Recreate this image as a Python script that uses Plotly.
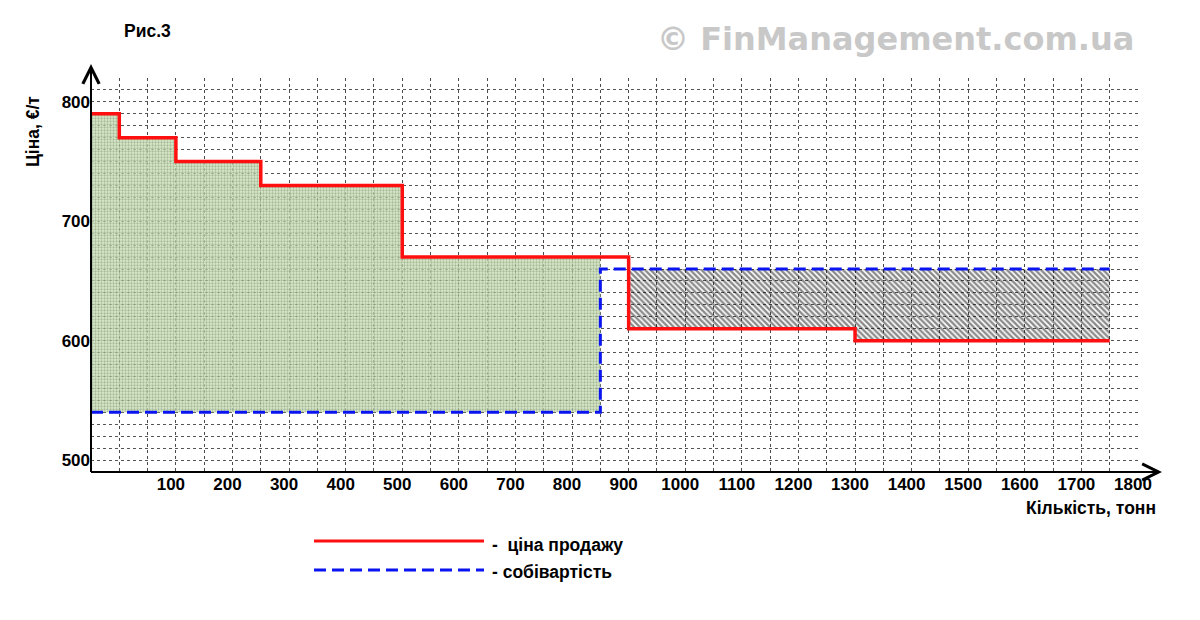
import plotly.graph_objects as go

# ---- data ----
price_x = [-50, 0, 100, 250, 500, 900, 1300, 1750]   # step starts, tonnes
price_y = [790, 770, 750, 730, 670, 610, 600, 600]   # selling price, EUR/t
cost_x = [-50, 850, 1750]
cost_y = [540, 660, 660]                              # cost price, EUR/t

x_tick_vals = [100, 200, 300, 400, 500, 600, 700, 800, 900, 1000,
               1100, 1200, 1300, 1400, 1500, 1600, 1700, 1800]
y_tick_vals = [500, 600, 700, 800]

series_names = ["ціна продажу", "собівартість"]

# ---- geometry helpers (screen pixels; page body has an 8px margin) ----
OFF = 8
W, H = 1200 - OFF, 620 - OFF
PL, PR, PT, PB = 91, 1138, 78, 472          # plot area on screen
L, T = PL - OFF, PT - OFF
R, B = W - (PR - OFF), H - (PB - OFF)
PW, PH = PR - PL, PB - PT


def px(x):
    return (x - PL) / PW


def py(y):
    return (PB - y) / PH


def step_value(xs, ys, x):
    v = ys[0]
    for xi, yi in zip(xs, ys):
        if xi <= x:
            v = yi
    return v


def step_path(xs, ys, x0, x1):
    pts = []
    for i in range(len(xs) - 1):
        a, b = max(xs[i], x0), min(xs[i + 1], x1)
        if a < b:
            pts.append((a, ys[i]))
            pts.append((b, ys[i]))
    return pts


fig = go.Figure()

# green region: price above cost, before cost jump
gx0, gx1 = cost_x[0], cost_x[1]
g = step_path(price_x, price_y, gx0, gx1)
g += [(gx1, cost_y[0]), (gx0, cost_y[0])]
fig.add_trace(go.Scatter(
    x=[p[0] for p in g] + [g[0][0]], y=[p[1] for p in g] + [g[0][1]],
    mode="none", fill="toself", hoverinfo="skip", showlegend=False,
    fillpattern=dict(shape=".", size=3, solidity=0.45,
                     fgcolor="rgba(95,115,85,0.85)",
                     bgcolor="rgba(205,228,185,0.75)"),
))

# gray hatched region: price below cost
hx0, hx1 = price_x[5], price_x[-1]
top = step_value(cost_x, cost_y, hx0)
h = step_path(price_x, price_y, hx0, hx1)
h += [(hx1, top), (hx0, top)]
fig.add_trace(go.Scatter(
    x=[p[0] for p in h] + [h[0][0]], y=[p[1] for p in h] + [h[0][1]],
    mode="none", fill="toself", hoverinfo="skip", showlegend=False,
    fillpattern=dict(shape="\\", size=4, solidity=0.6,
                     fgcolor="rgba(10,10,10,0.95)",
                     bgcolor="rgba(255,255,255,0)"),
))

fig.add_trace(go.Scatter(
    x=cost_x, y=cost_y, mode="lines", line_shape="hv", name=series_names[1],
    line=dict(color="#0a14f0", width=3, dash="12px,6px"), showlegend=False,
))
fig.add_trace(go.Scatter(
    x=price_x, y=price_y, mode="lines", line_shape="hv", name=series_names[0],
    line=dict(color="#ff1010", width=3.5), showlegend=False,
))

# axes: grid every 50 t and every 10 EUR
xgrid = list(range(0, 1801, 50))
ygrid = list(range(490, 821, 10))
tick_font = dict(family="Liberation Sans, Arial, sans-serif", size=17, color="black", weight="bold")

fig.update_xaxes(
    range=[-50, 1800], tickmode="array", tickvals=xgrid,
    ticktext=[str(v) if v in x_tick_vals else "" for v in xgrid],
    showgrid=True, gridcolor="#4a4a4a", griddash="dot", gridwidth=1,
    zeroline=False, showline=False, ticks="", tickfont=tick_font,
    ticklabelshift=-5,
)
fig.update_yaxes(
    range=[490, 820], tickmode="array", tickvals=ygrid,
    ticktext=[str(v) if v in y_tick_vals else "" for v in ygrid],
    showgrid=True, gridcolor="#555555", griddash="dot", gridwidth=1,
    zeroline=False, showline=False, ticks="", tickfont=tick_font,
)

txt = dict(family="Liberation Sans, Arial, sans-serif", size=17.5, color="black", weight="bold")
ann = []
# axis arrows
ann.append(dict(xref="paper", yref="paper", x=px(91), y=py(64), ax=0, ay=PB - 64,
                axref="pixel", ayref="pixel", text="", showarrow=True,
                arrowhead=5, arrowsize=2.0, arrowwidth=1.6, arrowcolor="black"))
ann.append(dict(xref="paper", yref="paper", x=px(1162), y=py(PB), ax=-(1162 - PL), ay=0,
                axref="pixel", ayref="pixel", text="", showarrow=True,
                arrowhead=5, arrowsize=2.0, arrowwidth=1.6, arrowcolor="black"))
# titles
ann.append(dict(xref="paper", yref="paper", x=px(147), y=py(31), text="Рис.3",
                showarrow=False, font=txt, xanchor="center", yanchor="middle"))
ann.append(dict(xref="paper", yref="paper", x=px(33), y=py(132), text="Ціна, €/т",
                showarrow=False, font=txt, textangle=-90, xanchor="center", yanchor="middle"))
ann.append(dict(xref="paper", yref="paper", x=px(1158), y=py(508), text="Кількість, тонн",
                showarrow=False, font=txt, xanchor="right", yanchor="middle"))
ann.append(dict(xref="paper", yref="paper", x=px(1136), y=py(39), text="© FinManagement.com.ua",
                showarrow=False, xanchor="right", yanchor="middle",
                font=dict(family="DejaVu Sans, Verdana, sans-serif", size=32,
                          color="#c8c8c8", weight="bold")))
# legend texts
ann.append(dict(xref="paper", yref="paper", x=px(490), y=py(545), text="-  " + series_names[0],
                showarrow=False, font=txt, xanchor="left", yanchor="middle"))
ann.append(dict(xref="paper", yref="paper", x=px(490), y=py(572), text="- " + series_names[1],
                showarrow=False, font=txt, xanchor="left", yanchor="middle"))

shapes = [
    dict(type="line", xref="paper", yref="paper", x0=px(91), x1=px(91), y0=py(PB), y1=py(66),
         line=dict(color="black", width=2)),
    dict(type="line", xref="paper", yref="paper", x0=px(91), x1=px(1160), y0=py(PB), y1=py(PB),
         line=dict(color="black", width=2)),
    dict(type="line", xref="paper", yref="paper", x0=px(314), x1=px(484), y0=py(541), y1=py(541),
         line=dict(color="#ff1010", width=3)),
    dict(type="line", xref="paper", yref="paper", x0=px(314), x1=px(484), y0=py(570), y1=py(570),
         line=dict(color="#0a14f0", width=3, dash="12px,6px")),
]

fig.update_layout(
    width=W, height=H, margin=dict(l=L, r=R, t=T, b=B),
    paper_bgcolor="white", plot_bgcolor="white",
    annotations=ann, shapes=shapes, showlegend=False,
)

fig.write_html("out.html")
